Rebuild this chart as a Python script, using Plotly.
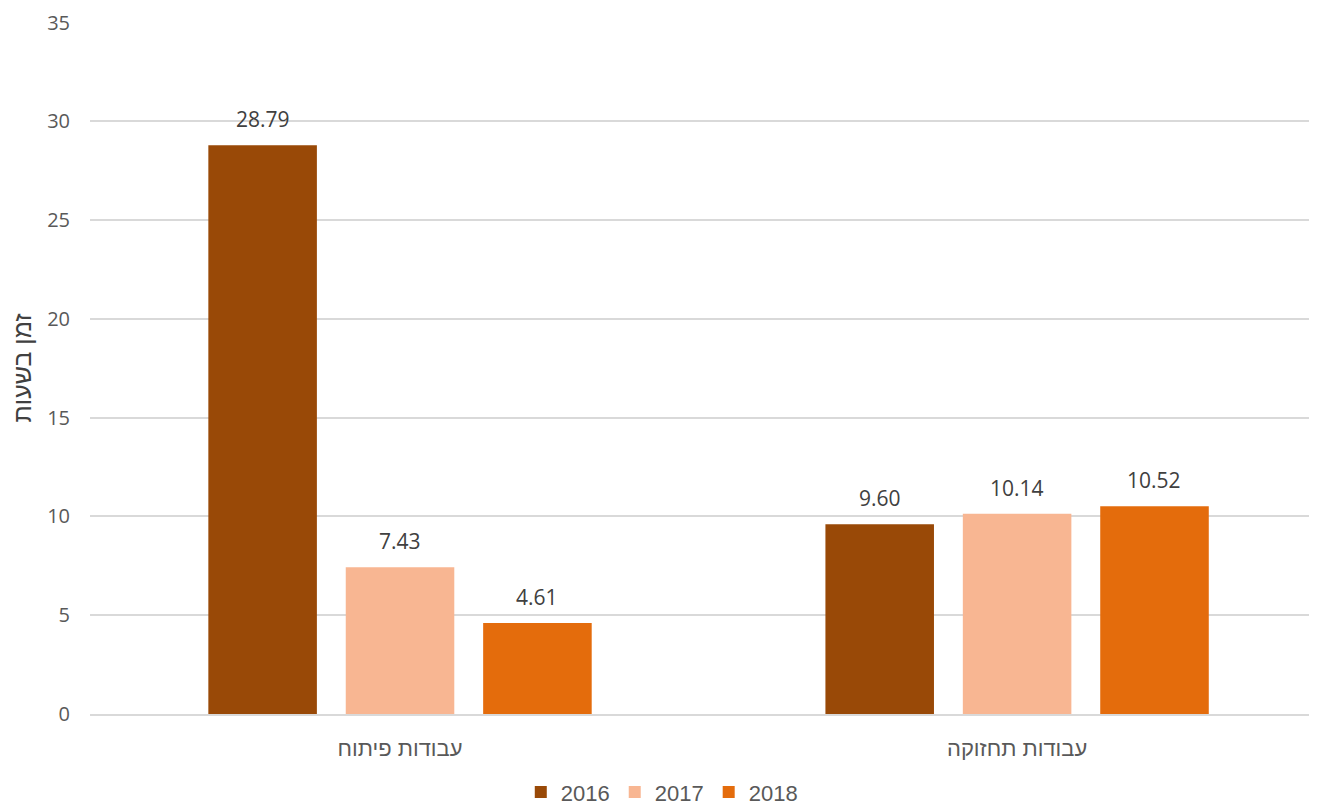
import plotly.graph_objects as go

categories = ["עבודות פיתוח", "עבודות תחזוקה"]
years = ["2016", "2017", "2018"]
values_2016 = [28.79, 9.60]
values_2017 = [7.43, 10.14]
values_2018 = [4.61, 10.52]
colors = ["#994907", "#F8B692", "#E46C0C"]
y_ticks = [0, 5, 10, 15, 20, 25, 30, 35]
y_title = "זמן בשעות"

series = [values_2016, values_2017, values_2018]
fig = go.Figure()
for name, vals, col in zip(years, series, colors):
    fig.add_trace(go.Bar(
        x=categories, y=vals, name=name, marker_color=col,
        marker_line_width=0,
    ))

# data labels placed above each bar (bar slot ~137px within a category)
slot_px = 137
for i, vals in enumerate(series):
    for cat, v in zip(categories, vals):
        fig.add_annotation(
            x=cat, y=v, text=f"{v:.2f}", showarrow=False,
            xshift=(i - 1) * slot_px, yshift=10, yanchor="bottom",
            font=dict(family="Open Sans", size=21, color="#404040"),
        )

# page body has an 8px margin, so the figure is sized/offset to compensate
fig.update_layout(
    width=1309, height=797, autosize=False,
    margin=dict(l=82, r=0, t=14, b=91, autoexpand=False),
    plot_bgcolor="white", paper_bgcolor="white",
    barmode="group", bargap=0.332, bargroupgap=0.21,
    showlegend=True,
    legend=dict(orientation="h", x=0.466, xanchor="center", y=-0.113, yanchor="middle",
                font=dict(family="Liberation Sans", size=22, color="#595959"),
                traceorder="normal", tracegroupgap=0),
    font=dict(family="Open Sans", color="#595959"),
)
fig.update_xaxes(range=[-0.5024, 1.486], showgrid=False, showline=True,
                 linecolor="#d9d9d9", linewidth=2,
                 tickfont=dict(family="Liberation Sans", size=22, color="#595959"),
                 ticks="", ticklabelstandoff=14, automargin=False)
fig.update_yaxes(range=[0, 35.03], tickvals=y_ticks, showgrid=True, gridcolor="#d9d9d9",
                 gridwidth=1.5, zeroline=False, showline=False,
                 tickfont=dict(family="Open Sans", size=20, color="#595959"),
                 ticks="", ticklabelstandoff=19, automargin=False,
                 title=dict(text=y_title, font=dict(family="Liberation Sans", size=25, color="#404040"),
                            standoff=17))

fig.write_html("out.html", config={"responsive": False, "displayModeBar": False},
               default_width="1309px", default_height="797px")
